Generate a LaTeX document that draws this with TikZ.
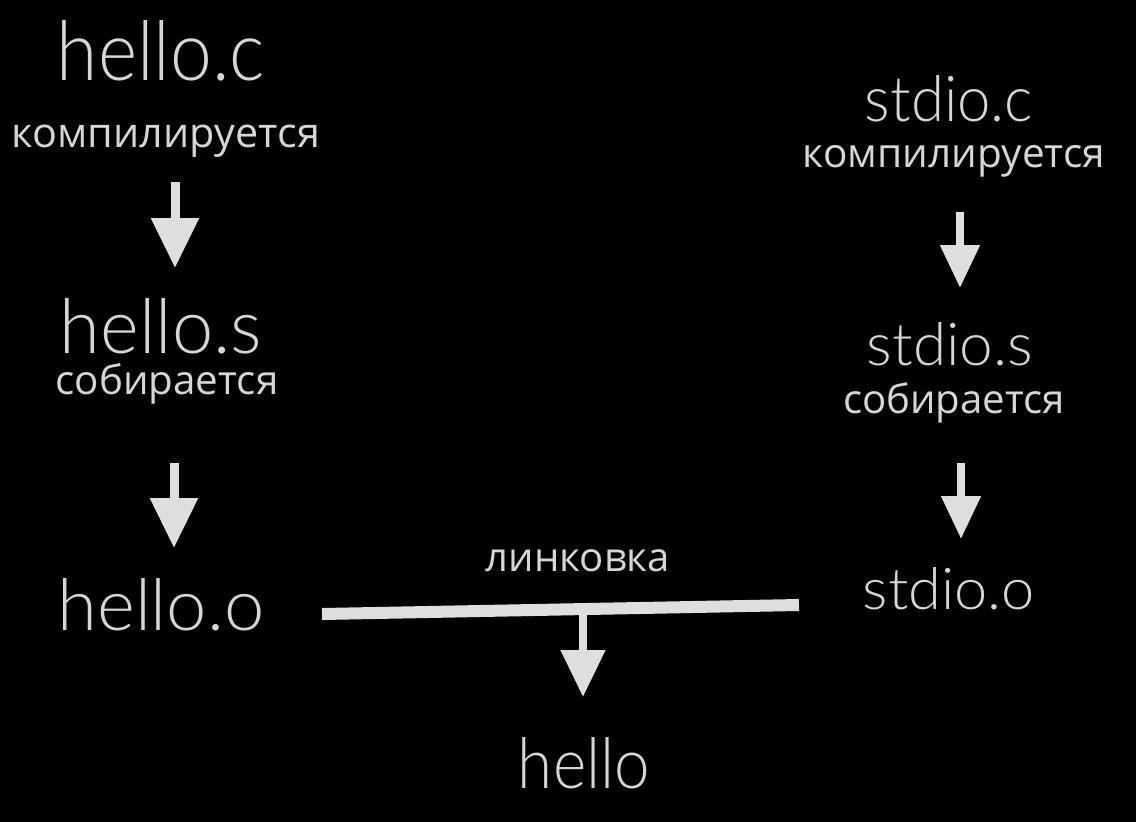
\documentclass[tikz,border=0pt]{standalone}
\usepackage{fontspec}
\setmainfont{Open Sans}
\newfontfamily\thinfont{Lato}[UprightFont=* Light]
\usepackage{graphicx}
\usetikzlibrary{arrows.meta}
\definecolor{fg}{RGB}{214,214,214}
\definecolor{ar}{RGB}{222,222,222}
\newcommand\fitbox[3]{\resizebox{#1pt}{#2pt}{\thinfont #3}}
\newcommand\lblbox[2]{\resizebox{#1pt}{!}{#2}}
\begin{document}
\begin{tikzpicture}[x=1pt,y=-1pt,
  txt/.style={anchor=base,inner sep=0pt,text=fg},
  flow/.style={draw=ar,line width=9pt,-{Triangle[width=46pt,length=50pt]}},
  flowsmall/.style={draw=ar,line width=8pt,-{Triangle[width=38pt,length=43pt]}},
  linkline/.style={draw=ar,line width=12pt}]
\fill[black] (0,0) rectangle (1136,822);
\useasboundingbox (0,0) rectangle (1136,822);
% left column
\node[txt] (hc) at (161,80) {\fitbox{208}{60}{hello.c}};
\node[txt] (cl) at (166,147) {\lblbox{308}{компилируется}};
\node[txt] (hs) at (161,353) {\fitbox{202}{55}{hello.s}};
\node[txt] (sl) at (167,394) {\lblbox{223}{собирается}};
\node[txt] (ho) at (161,630) {\fitbox{207}{52}{hello.o}};
% right column
\node[txt] (sc) at (949,121) {\fitbox{168}{46}{stdio.c}};
\node[txt] (cr) at (954,167) {\lblbox{302}{компилируется}};
\node[txt] (ss) at (950,365) {\fitbox{166}{43}{stdio.s}};
\node[txt] (sr) at (954,413) {\lblbox{222}{собирается}};
\node[txt] (so) at (949,609) {\fitbox{172}{42}{stdio.o}};
% link
\node[txt] (lk) at (578,571) {\lblbox{184}{линковка}};
\node[txt] (h) at (584,788) {\fitbox{132}{51}{hello}};
% arrow coordinates
\coordinate (a1s) at (175,182); \coordinate (a1e) at (175,268);
\coordinate (a2s) at (174,463); \coordinate (a2e) at (174,548);
\coordinate (b1s) at (960,212); \coordinate (b1e) at (960,288);
\coordinate (b2s) at (961,463); \coordinate (b2e) at (961,539);
\coordinate (l1) at (322,614); \coordinate (l2) at (799,605);
\coordinate (ds) at (583,608); \coordinate (de) at (583,697);
\draw[flow] (a1s) -- (a1e);
\draw[flow] (a2s) -- (a2e);
\draw[flowsmall] (b1s) -- (b1e);
\draw[flowsmall] (b2s) -- (b2e);
\draw[linkline] (l1) -- (l2);
\draw[draw=ar,line width=8pt,-{Triangle[width=43pt,length=47pt]}] (ds) -- (de);
\end{tikzpicture}
\end{document}
